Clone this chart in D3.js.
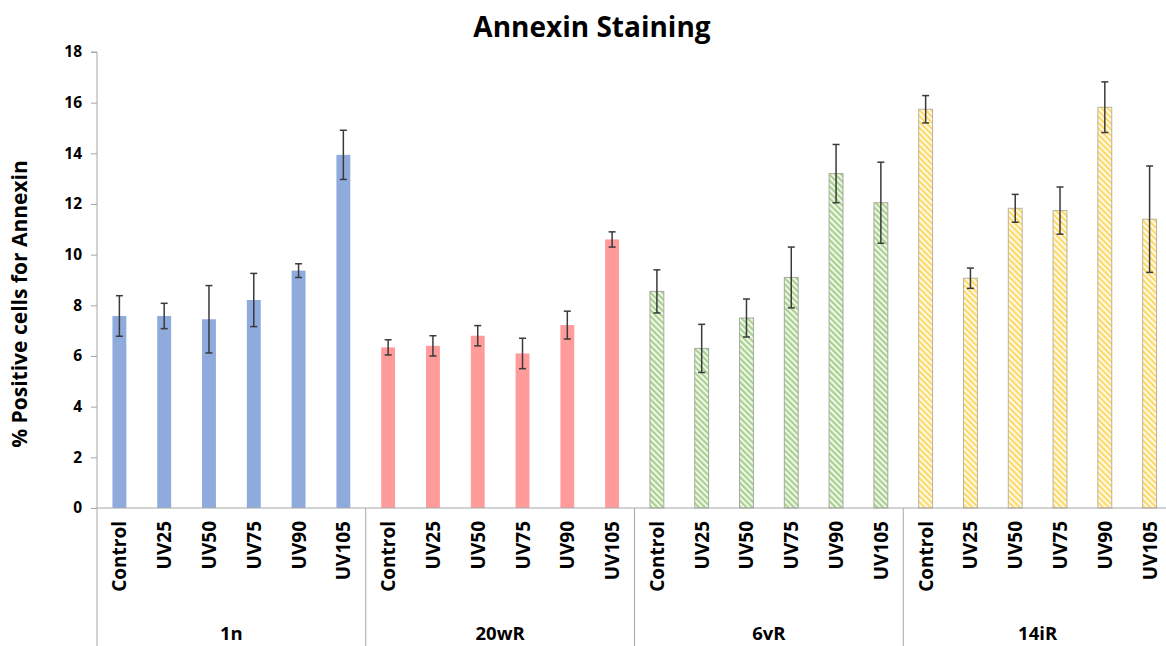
<!DOCTYPE html>
<html><head><meta charset="utf-8">
<script src="https://cdn.jsdelivr.net/npm/d3@7"></script>
<style>body{margin:0;background:#fff;} text{font-family:"Open Sans","DejaVu Sans",sans-serif;font-weight:bold;}</style>
</head><body><svg id="c" width="1166" height="646"></svg>
<script>
const groups = ["1n","20wR","6vR","14iR"];
const treatments = ["Control","UV25","UV50","UV75","UV90","UV105"];
const values1n   = [7.58, 7.58, 7.45, 8.21, 9.37, 13.94];
const errors1n   = [0.80, 0.50, 1.33, 1.05, 0.27, 0.97];
const values20wR = [6.34, 6.40, 6.80, 6.10, 7.22, 10.60];
const errors20wR = [0.30, 0.40, 0.40, 0.60, 0.55, 0.30];
const values6vR  = [8.55, 6.30, 7.50, 9.10, 13.20, 12.05];
const errors6vR  = [0.85, 0.95, 0.75, 1.20, 1.15, 1.60];
const values14iR = [15.74, 9.07, 11.83, 11.74, 15.82, 11.40];
const errors14iR = [0.54, 0.40, 0.55, 0.93, 1.00, 2.10];
const yTicks = [0,2,4,6,8,10,12,14,16,18];

const seriesValues = [values1n, values20wR, values6vR, values14iR];
const seriesErrors = [errors1n, errors20wR, errors6vR, errors14iR];

const data = [];
groups.forEach((g,gi)=>treatments.forEach((t,ti)=>{
  data.push({g, gi, t, key:g+"|"+t, v:seriesValues[gi][ti], e:seriesErrors[gi][ti]});
}));

const svg = d3.select("#c");
const x0 = 97, x1 = 1172, yTop = 52, yBot = 508;
const x = d3.scaleBand().domain(data.map(d=>d.key)).range([x0,x1]).paddingInner(0.69).paddingOuter(0.345);
const y = d3.scaleLinear().domain([0,18]).range([yBot,yTop]);

const defs = svg.append("defs");
function hatch(id, bg, fg){
  const p = defs.append("pattern").attr("id",id).attr("patternUnits","userSpaceOnUse")
    .attr("width",4.2).attr("height",4.2).attr("patternTransform","rotate(-45)");
  p.append("rect").attr("width",4.2).attr("height",4.2).attr("fill",bg);
  p.append("rect").attr("width",2.2).attr("height",4.2).attr("fill",fg);
}
hatch("hg","#f3f9ee","#a9d18e");
hatch("hy","#fffcef","#ffd966");
const fills = ["#8faadc","#ff9b9b","url(#hg)","url(#hy)"];
const strokes = ["none","none","#a3ab9c","#b8b2a0"];

// title
svg.append("text").attr("x",592).attr("y",37).attr("text-anchor","middle")
  .attr("font-size",28).attr("fill","#000").text("Annexin Staining");

// y axis
const yAxis = svg.append("g").attr("transform",`translate(${x0},0)`)
  .call(d3.axisLeft(y).tickValues(yTicks).tickSize(6).tickPadding(9).tickFormat(d3.format("d")));
yAxis.select(".domain").attr("stroke","#a6a6a6").attr("d",`M-6,${yTop}H0V${yBot}`);
yAxis.selectAll(".tick line").attr("stroke","#a6a6a6");
yAxis.selectAll(".tick text").attr("font-size",15.5).attr("fill","#000").attr("font-family","Open Sans, sans-serif").attr("font-weight","bold");

svg.append("text").attr("transform","translate(27,304) rotate(-90)").attr("text-anchor","middle")
  .attr("font-size",21).attr("fill","#000").text("% Positive cells for Annexin");

// bars
svg.append("g").selectAll("rect").data(data).join("rect")
  .attr("x",d=>x(d.key)).attr("width",x.bandwidth())
  .attr("y",d=>y(d.v)).attr("height",d=>y(0)-y(d.v))
  .attr("fill",d=>fills[d.gi]).attr("stroke",d=>strokes[d.gi]).attr("stroke-width",1);

// error bars
const eb = svg.append("g").attr("stroke","#3a3a3a").attr("stroke-width",1.5);
data.forEach(d=>{
  const cx = x(d.key)+x.bandwidth()/2;
  eb.append("line").attr("x1",cx).attr("x2",cx).attr("y1",y(d.v+d.e)).attr("y2",y(d.v-d.e));
  eb.append("line").attr("x1",cx-3.5).attr("x2",cx+3.5).attr("y1",y(d.v+d.e)).attr("y2",y(d.v+d.e));
  eb.append("line").attr("x1",cx-3.5).attr("x2",cx+3.5).attr("y1",y(d.v-d.e)).attr("y2",y(d.v-d.e));
});

// x axis
svg.append("line").attr("x1",x0).attr("x2",x1).attr("y1",yBot).attr("y2",yBot).attr("stroke","#a6a6a6");
const step = x.step();
const gw = step*treatments.length;
groups.forEach((g,gi)=>{
  const gx = x0 + gi*gw;
  svg.append("line").attr("x1",gx).attr("x2",gx).attr("y1",yBot).attr("y2",646).attr("stroke","#a6a6a6");
  svg.append("text").attr("x",gx+gw/2).attr("y",640).attr("text-anchor","middle")
    .attr("font-size",18.5).attr("fill","#000").text(g);
});
svg.append("g").selectAll("text").data(data).join("text")
  .attr("transform",d=>`translate(${x(d.key)+x.bandwidth()/2+7},521) rotate(-90)`)
  .attr("text-anchor","end").attr("font-size",19).attr("fill","#000").text(d=>d.t);
</script></body></html>
